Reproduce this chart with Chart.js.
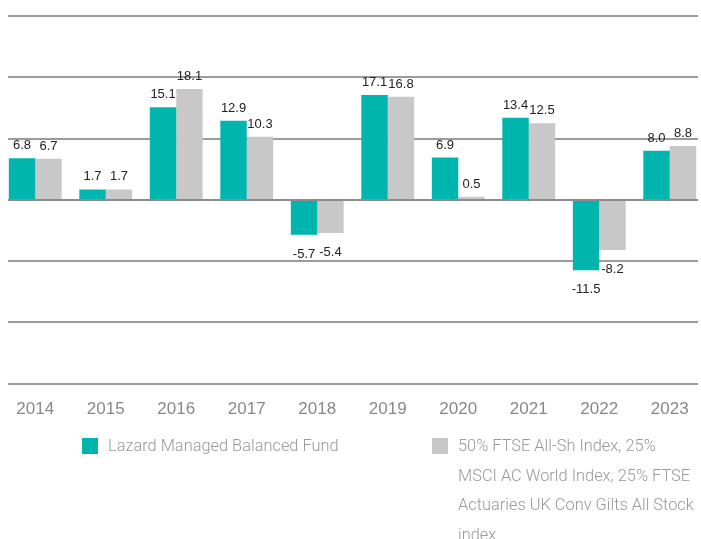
<!DOCTYPE html>
<html>
<head>
<meta charset="utf-8">
<script src="https://cdn.jsdelivr.net/npm/chart.js@4.4.0/dist/chart.umd.min.js"></script>
<style>
    html, body { margin: 0; padding: 0; background: #fff; overflow: hidden; }
    #wrap { position: relative; width: 701px; height: 539px; overflow: hidden; }
    #chart { position: absolute; left: 0; top: 0; }
    .legend-item { position: absolute; font-family: Roboto, "Liberation Sans", sans-serif; font-weight: 300; font-size: 16.4px; line-height: 29.5px; color: #999; white-space: nowrap; }
    .legend-item .box { position: absolute; left: 0; top: 7px; width: 16px; height: 16px; }
    .legend-item .txt { margin-left: 26px; }
</style>
</head>
<body>
<div id="wrap">
    <canvas id="chart" width="705" height="442"></canvas>
    <div id="legend"></div>
</div>
<script>
const years = ['2014', '2015', '2016', '2017', '2018', '2019', '2020', '2021', '2022', '2023'];
const fundValues = [6.8, 1.7, 15.1, 12.9, -5.7, 17.1, 6.9, 13.4, -11.5, 8.0];
const indexValues = [6.7, 1.7, 18.1, 10.3, -5.4, 16.8, 0.5, 12.5, -8.2, 8.8];
const gridValues = [30, 20, 10, 0, -10, -20, -30];
const fundLabel = ['Lazard Managed Balanced Fund'];
const indexLabel = ['50% FTSE All-Sh Index, 25%', 'MSCI AC World Index, 25% FTSE', 'Actuaries UK Conv Gilts All Stock', 'index'];

const teal = '#00b5ae';
const grey = '#c8c8c8';

// grid lines: normal ones behind the bars, the zero line on top
const gridPlugin = {
    id: 'gridLines',
    beforeDatasetsDraw(chart) {
        drawGrid(chart, false);
    },
    afterDatasetsDraw(chart) {
        drawGrid(chart, true);
    }
};

function drawGrid(chart, zeroOnly) {
    const ctx = chart.ctx;
    const y = chart.scales.y;
    ctx.save();
    ctx.lineWidth = 2;
    gridValues.forEach(function(v) {
        if ((v === 0) !== zeroOnly) return;
        const py = Math.round(y.getPixelForValue(v));
        ctx.strokeStyle = v === 0 ? '#8c8c8c' : '#9b9b9b';
        ctx.beginPath();
        ctx.moveTo(8, py);
        ctx.lineTo(698, py);
        ctx.stroke();
    });
    ctx.restore();
}

const valueLabels = {
    id: 'valueLabels',
    afterDatasetsDraw(chart) {
        const ctx = chart.ctx;
        ctx.save();
        ctx.font = '13px "Liberation Sans", Arial, sans-serif';
        ctx.fillStyle = '#222';
        ctx.textAlign = 'center';
        ctx.textBaseline = 'alphabetic';
        chart.data.datasets.forEach(function(ds, di) {
            chart.getDatasetMeta(di).data.forEach(function(bar, i) {
                const v = ds.data[i];
                const ty = v >= 0 ? bar.y - 9 : bar.y + 23;
                ctx.fillText(v.toFixed(1), bar.x, ty);
            });
        });
        ctx.restore();
    }
};

const ctx = document.getElementById('chart').getContext('2d');
const chart = new Chart(ctx, {
    type: 'bar',
    data: {
        labels: years,
        datasets: [{
            label: fundLabel,
            data: fundValues,
            backgroundColor: teal,
            categoryPercentage: 0.75,
            barPercentage: 1.0
        }, {
            label: indexLabel,
            data: indexValues,
            backgroundColor: grey,
            categoryPercentage: 0.75,
            barPercentage: 1.0
        }]
    },
    options: {
        responsive: false,
        animation: false,
        devicePixelRatio: 1,
        layout: { padding: { top: 16, bottom: 6, left: 0, right: 0 } },
        plugins: {
            legend: { display: false },
            tooltip: { enabled: false }
        },
        scales: {
            x: {
                grid: { display: false, drawTicks: false },
                border: { display: false },
                ticks: {
                    color: '#888',
                    padding: 16,
                    font: { family: '"Liberation Sans", Arial, sans-serif', size: 17 }
                }
            },
            y: {
                display: false,
                min: -30,
                max: 30
            }
        }
    },
    plugins: [gridPlugin, valueLabels]
});

// html legend built from the datasets (label lines as in the original)
const legendPos = [{ left: 82, top: 431 }, { left: 432, top: 431 }];
const legend = document.getElementById('legend');
chart.data.datasets.forEach(function(ds, i) {
    const item = document.createElement('div');
    item.className = 'legend-item';
    item.style.left = legendPos[i].left + 'px';
    item.style.top = legendPos[i].top + 'px';
    const box = document.createElement('span');
    box.className = 'box';
    box.style.background = ds.backgroundColor;
    item.appendChild(box);
    ds.label.forEach(function(line) {
        const txt = document.createElement('div');
        txt.className = 'txt';
        txt.textContent = line;
        item.appendChild(txt);
    });
    legend.appendChild(item);
});
</script>
</body>
</html>
